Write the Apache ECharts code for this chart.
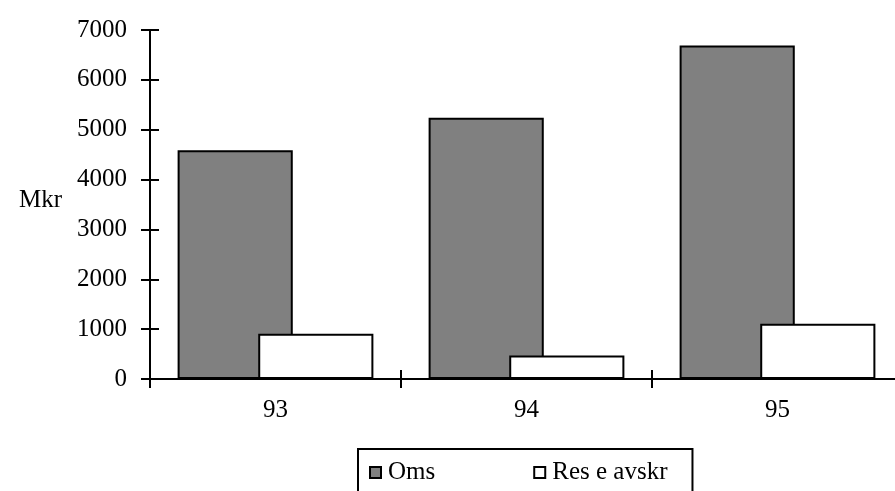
<!DOCTYPE html>
<html>
<head>
<meta charset="utf-8">
<script src="https://cdn.jsdelivr.net/npm/echarts@6/dist/echarts.min.js"></script>
<style>
  html, body { margin: 0; padding: 0; background: #fff; }
  #chart { width: 895px; height: 491px; }
</style>
</head>
<body>
<div id="chart"></div>
<script>
// Annual figures, millions of SEK
const years = ['93', '94', '95'];
const omsValues = [4590, 5240, 6690];
const resValues = [910, 470, 1110];
const seriesNames = ['Oms', 'Res e avskr'];
const yTicks = [0, 1000, 2000, 3000, 4000, 5000, 6000, 7000];

const FONT = 'Liberation Serif, Times New Roman, serif';
const SQUARE = 'path://M0,0H10V10H0Z';
const chart = echarts.init(document.getElementById('chart'));

const axisLine = { show: true, lineStyle: { color: '#000', width: 2 } };
const plain = v => String(v);

chart.setOption({
  animation: false,
  backgroundColor: '#fff',
  grid: {
    left: 150, top: 30, height: 349, width: 753,
    containLabel: false, outerBoundsMode: 'none'
  },
  xAxis: [
    {
      type: 'category', data: years, position: 'bottom',
      axisLine: axisLine,
      axisTick: { show: true, inside: false, length: 9, lineStyle: { color: '#000', width: 2 } },
      axisLabel: { color: '#000', fontFamily: FONT, fontSize: 25, margin: 19 }
    },
    {
      type: 'category', data: years, position: 'bottom',
      axisLine: { show: false },
      axisTick: { show: true, inside: true, length: 9, lineStyle: { color: '#000', width: 2 } },
      axisLabel: { show: false }
    }
  ],
  yAxis: [
    {
      type: 'value', position: 'left', min: yTicks[0], max: yTicks[yTicks.length - 1], interval: 1000,
      axisLine: axisLine,
      splitLine: { show: false },
      axisTick: { show: true, inside: false, length: 9, lineStyle: { color: '#000', width: 2 } },
      axisLabel: { color: '#000', fontFamily: FONT, fontSize: 25, margin: 23, formatter: plain }
    },
    {
      type: 'value', position: 'left', min: yTicks[0], max: yTicks[yTicks.length - 1], interval: 1000,
      axisLine: { show: false },
      splitLine: { show: false },
      axisTick: { show: true, inside: true, length: 9, lineStyle: { color: '#000', width: 2 } },
      axisLabel: { show: false }
    }
  ],
  legend: {
    left: 358, top: 449,
    orient: 'horizontal',
    borderColor: '#000', borderWidth: 2,
    padding: [11, 25, 40, 11],
    itemGap: 98,
    itemWidth: 15, itemHeight: 11,
    symbolKeepAspect: true,
    textStyle: { color: '#000', fontFamily: FONT, fontSize: 25 },
    data: [
      { name: seriesNames[0], icon: SQUARE, itemStyle: { color: '#808080', borderColor: '#000', borderWidth: 2 } },
      { name: seriesNames[1], icon: SQUARE, itemStyle: { color: '#fff', borderColor: '#000', borderWidth: 2 } }
    ]
  },
  graphic: [
    {
      type: 'text', left: 19, top: 188,
      style: { text: 'Mkr', fill: '#000', font: '25px ' + FONT }
    }
  ],
  series: [
    {
      name: seriesNames[0], type: 'bar', data: omsValues,
      barGap: '-30%', barCategoryGap: '22%',
      itemStyle: { color: '#808080', borderColor: '#000', borderWidth: 2 }
    },
    {
      name: seriesNames[1], type: 'bar', data: resValues,
      barGap: '-30%', barCategoryGap: '22%',
      itemStyle: { color: '#fff', borderColor: '#000', borderWidth: 2 }
    }
  ]
});
</script>
</body>
</html>
